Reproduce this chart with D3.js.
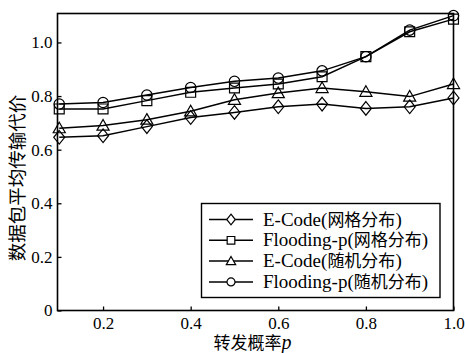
<!DOCTYPE html>
<html><head><meta charset="utf-8">
<script src="https://cdn.jsdelivr.net/npm/d3@7/dist/d3.min.js"></script>
<style>
body{margin:0;background:#fff;}
text{font-family:"Liberation Serif","Times New Roman",serif;fill:#000;}
.cjk{font-family:"Noto Sans CJK SC","Liberation Serif",serif;}
</style></head>
<body><svg id="c" width="465" height="353"></svg>
<script>
const xValues = [0.1,0.2,0.3,0.4,0.5,0.6,0.7,0.8,0.9,1.0];
const ecodeGrid = [0.646,0.652,0.686,0.720,0.739,0.760,0.770,0.754,0.760,0.793];
const floodGrid = [0.752,0.752,0.783,0.814,0.830,0.845,0.872,0.947,1.040,1.087];
const ecodeRand = [0.680,0.690,0.712,0.743,0.786,0.811,0.830,0.816,0.798,0.845];
const floodRand = [0.770,0.776,0.804,0.832,0.855,0.867,0.894,0.947,1.046,1.100];
const xTicks = [0.2,0.4,0.6,0.8,1.0];
const yTicks = [0,0.2,0.4,0.6,0.8,1.0];
const seriesNames = [["E-Code(","网格分布",")"],["Flooding-p(","网格分布",")"],["E-Code(","随机分布",")"],["Flooding-p(","随机分布",")"]];
const markers = ["diamond","square","triangle","circle"];
const xLabel = ["转发概率","p"];
const yLabel = "数据包平均传输代价";

const series = [ecodeGrid, floodGrid, ecodeRand, floodRand];
const svg = d3.select("#c");
const L=57.5, R=453.5, T=13.5, B=310.5;
const x = d3.scaleLinear().domain([0.096,1.0]).range([L,R]);
const y = d3.scaleLinear().domain([0,1.108]).range([B,T]);

function markerPath(type, s){
  const g = d3.path();
  if(type==="diamond"){ g.moveTo(0,-s*0.62); g.lineTo(s*0.5,0); g.lineTo(0,s*0.62); g.lineTo(-s*0.5,0); g.closePath(); }
  else if(type==="square"){ const h=s*0.45; g.rect(-h,-h,2*h,2*h); }
  else if(type==="triangle"){ const h=s*0.55; g.moveTo(0,-h); g.lineTo(h*1.0,h*0.75); g.lineTo(-h*1.0,h*0.75); g.closePath(); }
  else { g.arc(0,0,s*0.47,0,2*Math.PI); }
  return g.toString();
}

// axes
const gx = svg.append("g").attr("transform",`translate(0,${B})`)
  .call(d3.axisBottom(x).tickValues(xTicks).tickFormat(d3.format(".1f")).tickSize(-4).tickPadding(6));
const gy = svg.append("g").attr("transform",`translate(${L},0)`)
  .call(d3.axisLeft(y).tickValues(yTicks).tickFormat(d=>d===0?"0":d3.format(".1f")(d)).tickSize(-4).tickPadding(5));
[gx,gy].forEach(g=>{
  g.select(".domain").remove();
  g.selectAll(".tick line").attr("stroke","#000").attr("stroke-width",1.3);
  g.selectAll(".tick text").attr("font-size",17).attr("fill","#000").style("font-family","'Liberation Serif',serif");
});
svg.append("rect").attr("x",L).attr("y",T).attr("width",R-L).attr("height",B-T)
  .attr("fill","none").attr("stroke","#000").attr("stroke-width",1.6);

// lines
const line = d3.line().x((d,i)=>x(xValues[i])).y(d=>y(d));
series.forEach((s,k)=>{
  svg.append("path").datum(s).attr("d",line).attr("fill","none").attr("stroke","#000").attr("stroke-width",1.5);
  svg.append("g").selectAll("path").data(s).join("path")
    .attr("transform",(d,i)=>`translate(${x(xValues[i])},${y(d)})`)
    .attr("d",markerPath(markers[k],11)).attr("fill","none").attr("stroke","#000").attr("stroke-width",1.2);
});

// legend
const lg = svg.append("g");
lg.append("rect").attr("x",201.5).attr("y",203.5).attr("width",238.5).attr("height",94)
  .attr("fill","#fff").attr("stroke","#000").attr("stroke-width",1.4);
seriesNames.forEach((nm,k)=>{
  const cy = 219.5 + k*20.8;
  lg.append("line").attr("x1",209).attr("x2",253).attr("y1",cy).attr("y2",cy).attr("stroke","#000").attr("stroke-width",1.5);
  lg.append("path").attr("transform",`translate(231,${cy})`).attr("d",markerPath(markers[k],8.5))
    .attr("fill","#fff").attr("stroke","#000").attr("stroke-width",1.2);
  const t = lg.append("text").attr("x",263).attr("y",cy+6).attr("font-size",19);
  t.append("tspan").text(nm[0]);
  t.append("tspan").attr("class","cjk").attr("font-size",17).text(nm[1]);
  t.append("tspan").text(nm[2]);
});

// axis labels
const xl = svg.append("text").attr("x",(L+R)/2-3).attr("y",349).attr("text-anchor","middle").attr("font-size",17);
xl.append("tspan").attr("class","cjk").text(xLabel[0]);
xl.append("tspan").attr("font-style","italic").attr("font-size",20).text(xLabel[1]);
svg.append("text").attr("class","cjk").attr("transform",`translate(24,178) rotate(-90)`)
  .attr("text-anchor","middle").attr("font-size",18.5).text(yLabel);
</script></body></html>
